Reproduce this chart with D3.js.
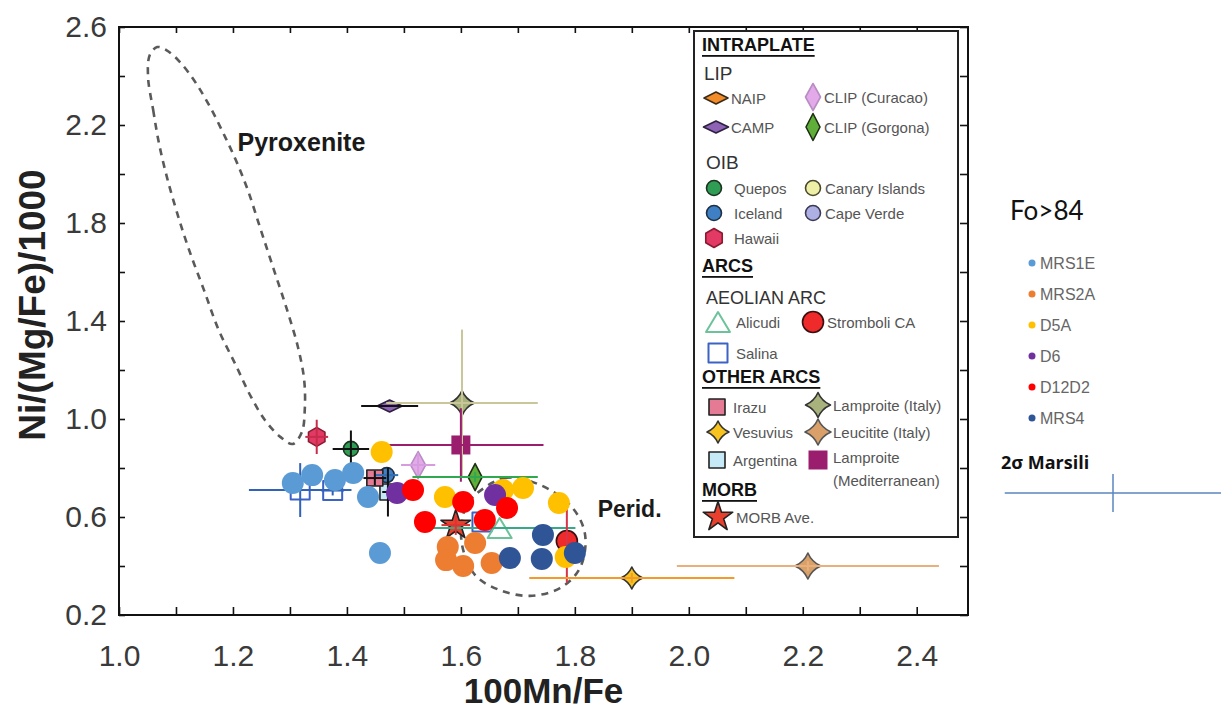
<!DOCTYPE html>
<html>
<head>
<meta charset="utf-8">
<script src="https://cdn.jsdelivr.net/npm/d3@7"></script>
<style>
  body { margin: 0; background: #fff; }
  svg { display: block; }
</style>
</head>
<body>
<svg id="chart" width="1221" height="708"></svg>
<script>
// ---- Axis ticks ----
const xTickLabels = [1.0, 1.2, 1.4, 1.6, 1.8, 2.0, 2.2, 2.4];
const yTickLabels = [0.2, 0.6, 1.0, 1.4, 1.8, 2.2, 2.6];
const xMinorTicks = [1.0, 1.1, 1.2, 1.3, 1.4, 1.5, 1.6, 1.7, 1.8, 1.9, 2.0, 2.1, 2.2, 2.3, 2.4];
const yMinorTicks = [0.2, 0.4, 0.6, 0.8, 1.0, 1.2, 1.4, 1.6, 1.8, 2.0, 2.2, 2.4, 2.6];

// ---- Olivine samples (Fo>84): [100Mn/Fe, Ni/(Mg/Fe)/1000] ----
const sampleNames = ["MRS1E", "MRS2A", "D5A", "D6", "D12D2", "MRS4"];
const mrs1e = [[1.305, 0.739], [1.339, 0.771], [1.379, 0.751], [1.411, 0.780], [1.437, 0.682], [1.458, 0.453]];
const mrs2a = [[1.577, 0.478], [1.574, 0.424], [1.604, 0.400], [1.625, 0.494], [1.654, 0.412]];
const d5a   = [[1.461, 0.865], [1.572, 0.682], [1.674, 0.710], [1.709, 0.718], [1.772, 0.657], [1.784, 0.437]];
const d6    = [[1.488, 0.698], [1.660, 0.690]];
const d12d2 = [[1.516, 0.710], [1.537, 0.580], [1.604, 0.661], [1.642, 0.588], [1.681, 0.637]];
const mrs4  = [[1.744, 0.527], [1.686, 0.433], [1.742, 0.429], [1.800, 0.453]];

// ---- Literature averages with 2σ bars ----
const refNames = ["Hawaii", "Quepos", "Lamproite (Italy)", "CAMP", "Lamproite (Mediterranean)",
  "CLIP (Curacao)", "CLIP (Gorgona)", "Iceland", "Argentina", "Irazu", "Salina", "Salina", "Salina",
  "Alicudi", "MORB Ave.", "Stromboli CA", "Vesuvius", "Leucitite (Italy)"];
const refX  = [1.347, 1.407, 1.602, 1.475, 1.600, 1.525, 1.625, 1.470, 1.472, 1.449, 1.318, 1.375, 1.637, 1.668, 1.591, 1.786, 1.900, 2.209];
const refY  = [0.927, 0.878, 1.065, 1.053, 0.894, 0.812, 0.763, 0.771, 0.702, 0.759, 0.710, 0.708, 0.580, 0.555, 0.567, 0.502, 0.351, 0.400];
const refDx = [0.020, 0.032, 0.133, 0.050, 0.145, 0.030, 0.110, 0.020, 0.010, 0.020, 0.090, 0.020, 0.000, 0.133, 0.025, 0.000, 0.180, 0.230];
const refDy = [0.070, 0.075, 0.300, 0.000, 0.150, 0.050, 0.020, 0.000, 0.100, 0.030, 0.110, 0.020, 0.000, 0.000, 0.040, 0.170, 0.020, 0.020];

// ---- Field outlines ----
const pyroxeniteOutline = [
  [1.051, 2.396], [1.060, 2.261], [1.070, 2.127], [1.084, 1.988], [1.102, 1.841], [1.123, 1.690],
  [1.149, 1.527], [1.175, 1.363], [1.205, 1.220], [1.230, 1.098], [1.256, 0.996], [1.283, 0.927],
  [1.305, 0.898], [1.321, 0.947], [1.326, 1.037], [1.325, 1.159], [1.314, 1.294], [1.295, 1.445],
  [1.272, 1.608], [1.249, 1.771], [1.226, 1.935], [1.205, 2.057], [1.183, 2.167], [1.160, 2.273],
  [1.135, 2.371], [1.107, 2.457], [1.083, 2.506], [1.067, 2.518], [1.054, 2.486]
];
const peridotiteOutline = [
  [1.616, 0.669], [1.677, 0.759], [1.739, 0.731], [1.796, 0.637], [1.818, 0.527], [1.809, 0.392],
  [1.774, 0.310], [1.721, 0.278], [1.668, 0.302], [1.625, 0.363], [1.602, 0.486], [1.604, 0.608]
];

// 2σ uncertainty of the Marsili data
const marsiliDx = 0.19;
const marsiliDy = 0.078;

// ---- Styles ----
const sampleColors = {
  "MRS1E": "#5b9bd5", "MRS2A": "#ed7d31", "D5A": "#ffc000",
  "D6": "#7030a0", "D12D2": "#ff0000", "MRS4": "#2f5597"
};
const markerStyle = {
  "NAIP":              { type: "diamond", w: 24, h: 12, fill: "#f28c28", stroke: "#3a2a1a" },
  "CAMP":              { type: "diamond", w: 25, h: 12, fill: "#8e63b5", stroke: "#2e2040" },
  "CLIP (Curacao)":    { type: "diamond", w: 15, h: 27, fill: "#e3aae9", stroke: "#b98cc4" },
  "CLIP (Gorgona)":    { type: "diamond", w: 14, h: 27, fill: "#5fae3a", stroke: "#1d2e12" },
  "Quepos":            { type: "circle", r: 7.5, fill: "#2f9e54", stroke: "#1c3322" },
  "Canary Islands":    { type: "circle", r: 7.5, fill: "#eef0a8", stroke: "#4a4a2a" },
  "Iceland":           { type: "circle", r: 7.5, fill: "#3f7fc4", stroke: "#1f2f44" },
  "Cape Verde":        { type: "circle", r: 7.5, fill: "#aeb0e3", stroke: "#3a3a55" },
  "Hawaii":            { type: "hex", r: 9.5, fill: "#e23a64", stroke: "#8a1a30" },
  "Alicudi":           { type: "triangle", w: 24, h: 20, fill: "none", stroke: "#6cc29a" },
  "Stromboli CA":      { type: "circle", r: 10.5, fill: "#ee2a2a", stroke: "#3a1010" },
  "Salina":            { type: "square", s: 19, fill: "none", stroke: "#3b62c4" },
  "Irazu":             { type: "square", s: 16, fill: "#e57a94", stroke: "#222" },
  "Lamproite (Italy)": { type: "star4", r: 12.5, fill: "#a8b27c", stroke: "#333" },
  "Vesuvius":          { type: "star4", r: 11, fill: "#f7c31e", stroke: "#333" },
  "Leucitite (Italy)": { type: "star4", r: 13, fill: "#d9a06a", stroke: "#555" },
  "Argentina":         { type: "square", s: 16, fill: "#c5e9f7", stroke: "#222" },
  "Lamproite (Mediterranean)": { type: "square", s: 19, fill: "#9a1d6e", stroke: "none" },
  "MORB Ave.":         { type: "star5", r: 13, fill: "#e8402c", stroke: "#222" }
};
const barColor = {
  "Hawaii": "#c72c4c", "Quepos": "#111", "CAMP": "#111", "Lamproite (Italy)": "#c9c79a",
  "Lamproite (Mediterranean)": "#9a1d6e", "CLIP (Curacao)": "#d79be0", "CLIP (Gorgona)": "#2fa84f",
  "Iceland": "#2f6fb8", "Irazu": "#111", "Argentina": "#111", "Salina": "#2f62b8", "Alicudi": "#36a987",
  "MORB Ave.": "#d33", "Stromboli CA": "#d8334a", "Vesuvius": "#f39a2a", "Leucitite (Italy)": "#e8b07c"
};

function markerPath(st) {
  if (st.type === "circle") {
    const r = st.r;
    return `M${-r},0a${r},${r} 0 1,0 ${2 * r},0a${r},${r} 0 1,0 ${-2 * r},0Z`;
  }
  if (st.type === "diamond") {
    return `M${-st.w / 2},0L0,${-st.h / 2}L${st.w / 2},0L0,${st.h / 2}Z`;
  }
  if (st.type === "square") {
    const h = st.s / 2;
    return `M${-h},${-h}H${h}V${h}H${-h}Z`;
  }
  if (st.type === "triangle") {
    return `M0,${-st.h / 2}L${st.w / 2},${st.h / 2}L${-st.w / 2},${st.h / 2}Z`;
  }
  if (st.type === "hex") {
    const pts = d3.range(6).map(i => {
      const a = Math.PI / 6 + i * Math.PI / 3;
      return [st.r * Math.cos(a), st.r * Math.sin(a)];
    });
    return "M" + pts.map(p => p.join(",")).join("L") + "Z";
  }
  if (st.type === "star4") {
    const r = st.r, c = 0.3 * r;
    return `M0,${-r}Q${c},${-c} ${r},0Q${c},${c} 0,${r}Q${-c},${c} ${-r},0Q${-c},${-c} 0,${-r}Z`;
  }
  if (st.type === "star5") {
    return d3.symbol(d3.symbolStar, st.r * st.r * 1.6)();
  }
  return "";
}

function drawMarker(g, name, cx, cy) {
  const st = markerStyle[name];
  g.append("path")
    .attr("d", markerPath(st))
    .attr("transform", `translate(${cx},${cy})`)
    .attr("fill", st.fill)
    .attr("stroke", st.stroke)
    .attr("stroke-width", st.fill === "none" ? 2 : 1.6)
    .attr("stroke-linejoin", "round");
}

// ---- Layout ----
const svg = d3.select("#chart");
const plot = { left: 119, right: 968, top: 27, bottom: 615 };
const x = d3.scaleLinear().domain([1.0, 2.49]).range([plot.left, plot.right]);
const y = d3.scaleLinear().domain([0.2, 2.6]).range([plot.bottom, plot.top]);

const fmt = d3.format(".1f");
const isLabel = (arr, d) => arr.some(v => Math.abs(v - d) < 1e-9);

// ---- Field outlines ----
const outline = d3.line().x(d => x(d[0])).y(d => y(d[1])).curve(d3.curveCatmullRomClosed.alpha(0.5));
svg.append("path").datum(pyroxeniteOutline).attr("d", outline)
  .attr("fill", "none").attr("stroke", "#5a5a5a").attr("stroke-width", 2.6).attr("stroke-dasharray", "7,6");
svg.append("path").datum(peridotiteOutline).attr("d", outline)
  .attr("fill", "none").attr("stroke", "#5a5a5a").attr("stroke-width", 2.6).attr("stroke-dasharray", "7,6");

svg.append("text").attr("x", x(1.208)).attr("y", y(2.13))
  .attr("font-family", "Liberation Sans, Arial, sans-serif").attr("font-weight", "bold")
  .attr("font-size", 25).attr("dominant-baseline", "central").attr("fill", "#1a1a1a").text("Pyroxenite");
svg.append("text").attr("x", x(1.84)).attr("y", y(0.632))
  .attr("font-family", "Liberation Sans, Arial, sans-serif").attr("font-weight", "bold")
  .attr("font-size", 23).attr("dominant-baseline", "central").attr("fill", "#1a1a1a").text("Perid.");

// ---- Literature references: markers then 2σ bars ----
const refs = refNames.map((n, i) => ({ name: n, x: refX[i], y: refY[i], dx: refDx[i], dy: refDy[i] }));
const refLayer = svg.append("g");
const barLayer = svg.append("g");
refs.forEach(d => {
  drawMarker(refLayer, d.name, x(d.x), y(d.y));
  const col = barColor[d.name];
  if (d.dx > 0) {
    barLayer.append("line").attr("x1", x(d.x - d.dx)).attr("x2", x(d.x + d.dx))
      .attr("y1", y(d.y)).attr("y2", y(d.y)).attr("stroke", col).attr("stroke-width", 2);
  }
  if (d.dy > 0) {
    barLayer.append("line").attr("x1", x(d.x)).attr("x2", x(d.x))
      .attr("y1", y(d.y - d.dy)).attr("y2", y(d.y + d.dy)).attr("stroke", col).attr("stroke-width", 2);
  }
});

// ---- Samples ----
const sampleSets = [mrs1e, mrs2a, d5a, d6, d12d2, mrs4];
sampleSets.forEach((pts, i) => {
  svg.append("g").selectAll("circle").data(pts).join("circle")
    .attr("cx", d => x(d[0])).attr("cy", d => y(d[1])).attr("r", 11)
    .attr("fill", sampleColors[sampleNames[i]]);
});

// ---- Axes (ticks point inward on all four sides) ----
const tickStyle = g => {
  g.select(".domain").remove();
  g.selectAll(".tick line").attr("stroke", "#111").attr("stroke-width", 1.6);
  g.selectAll(".tick text").attr("fill", "#3a3a3a")
    .attr("font-family", "Liberation Sans, Arial, sans-serif").attr("font-size", 30);
};
svg.append("g").attr("transform", `translate(0,${plot.bottom})`)
  .call(d3.axisBottom(x).tickValues(xMinorTicks).tickSizeInner(-8).tickSizeOuter(0).tickPadding(30)
    .tickFormat(d => isLabel(xTickLabels, d) ? fmt(d) : ""))
  .call(tickStyle);
svg.append("g").attr("transform", `translate(0,${plot.top})`)
  .call(d3.axisTop(x).tickValues(xMinorTicks).tickSizeInner(-6).tickSizeOuter(0).tickFormat(""))
  .call(tickStyle);
svg.append("g").attr("transform", `translate(${plot.left},0)`)
  .call(d3.axisLeft(y).tickValues(yMinorTicks).tickSizeInner(-6).tickSizeOuter(0).tickPadding(12)
    .tickFormat(d => isLabel(yTickLabels, d) ? fmt(d) : ""))
  .call(tickStyle);
svg.append("g").attr("transform", `translate(${plot.right},0)`)
  .call(d3.axisRight(y).tickValues(yMinorTicks).tickSizeInner(-8).tickSizeOuter(0).tickFormat(""))
  .call(tickStyle);

svg.append("rect").attr("x", plot.left).attr("y", plot.top)
  .attr("width", plot.right - plot.left).attr("height", plot.bottom - plot.top)
  .attr("fill", "none").attr("stroke", "#111").attr("stroke-width", 2);

// Axis titles
svg.append("text").attr("x", (plot.left + plot.right) / 2).attr("y", 690)
  .attr("text-anchor", "middle").attr("dominant-baseline", "central")
  .attr("font-family", "Liberation Sans, Arial, sans-serif").attr("font-weight", "bold")
  .attr("font-size", 35).attr("fill", "#222").text("100Mn/Fe");
svg.append("text").attr("transform", "translate(32,305) rotate(-90)")
  .attr("text-anchor", "middle").attr("dominant-baseline", "central")
  .attr("font-family", "Liberation Sans, Arial, sans-serif").attr("font-weight", "bold")
  .attr("font-size", 37).attr("fill", "#222").text("Ni/(Mg/Fe)/1000");

// ---- Reference legend box ----
const lg = svg.append("g");
lg.append("rect").attr("x", 694).attr("y", 31).attr("width", 264).attr("height", 506)
  .attr("fill", "#fff").attr("stroke", "#222").attr("stroke-width", 2);

const font = "Liberation Sans, Arial, sans-serif";
const headers = [
  { t: "INTRAPLATE", x: 702, y: 45, bold: true, size: 18 },
  { t: "LIP", x: 704, y: 73, bold: false, size: 19 },
  { t: "OIB", x: 706, y: 162, bold: false, size: 19 },
  { t: "ARCS", x: 702, y: 266, bold: true, size: 18 },
  { t: "AEOLIAN ARC", x: 706, y: 298, bold: false, size: 18 },
  { t: "OTHER ARCS", x: 702, y: 377, bold: true, size: 18 },
  { t: "MORB", x: 702, y: 490, bold: true, size: 18 }
];
headers.forEach(h => {
  lg.append("text").attr("x", h.x).attr("y", h.y).attr("dominant-baseline", "central")
    .attr("font-family", font).attr("font-size", h.size)
    .attr("font-weight", h.bold ? "bold" : "normal")
    .attr("text-decoration", h.bold ? "underline" : "none")
    .attr("fill", h.bold ? "#111" : "#333").text(h.t);
});

const legendItems = [
  { n: "NAIP", mx: 716, tx: 731, y: 98 },
  { n: "CLIP (Curacao)", mx: 813, tx: 824, y: 97 },
  { n: "CAMP", mx: 716, tx: 731, y: 127 },
  { n: "CLIP (Gorgona)", mx: 813, tx: 824, y: 127 },
  { n: "Quepos", mx: 714, tx: 734, y: 188 },
  { n: "Canary Islands", mx: 813, tx: 825, y: 188 },
  { n: "Iceland", mx: 714, tx: 734, y: 213 },
  { n: "Cape Verde", mx: 813, tx: 825, y: 213 },
  { n: "Hawaii", mx: 714, tx: 734, y: 238 },
  { n: "Alicudi", mx: 718, tx: 736, y: 322 },
  { n: "Stromboli CA", mx: 813, tx: 827, y: 322 },
  { n: "Salina", mx: 718, tx: 736, y: 353 },
  { n: "Irazu", mx: 717, tx: 733, y: 407 },
  { n: "Lamproite (Italy)", mx: 818, tx: 833, y: 405 },
  { n: "Vesuvius", mx: 718, tx: 733, y: 432 },
  { n: "Leucitite (Italy)", mx: 818, tx: 833, y: 432 },
  { n: "Argentina", mx: 717, tx: 733, y: 460 },
  { n: "Lamproite (Mediterranean)", mx: 818, tx: 833, y: 460, lines: ["Lamproite", "(Mediterranean)"] },
  { n: "MORB Ave.", mx: 718, tx: 736, y: 517 }
];
legendItems.forEach(it => {
  drawMarker(lg, it.n, it.mx, it.y);
  const lines = it.lines || [it.n];
  lines.forEach((ln, k) => {
    lg.append("text").attr("x", it.tx).attr("y", it.y - (lines.length > 1 ? 3 : 0) + k * 23)
      .attr("dominant-baseline", "central").attr("font-family", font)
      .attr("font-size", 15).attr("fill", "#555").text(ln);
  });
});

// ---- Sample legend ----
const sg = svg.append("g");
sg.append("text").attr("x", 1010).attr("y", 210).attr("dominant-baseline", "central")
  .attr("font-family", "Lato, Open Sans, sans-serif").attr("font-size", 26).attr("fill", "#111").text("Fo>84");
sampleNames.forEach((n, i) => {
  const yy = 263 + i * 31;
  sg.append("circle").attr("cx", 1032).attr("cy", yy).attr("r", 3.5).attr("fill", sampleColors[n]);
  sg.append("text").attr("x", 1040).attr("y", yy).attr("dominant-baseline", "central")
    .attr("font-family", "Liberation Sans, Arial, sans-serif").attr("font-size", 16)
    .attr("fill", "#666").text(n);
});
sg.append("text").attr("x", 1001).attr("y", 462).attr("dominant-baseline", "central")
  .attr("font-family", "Open Sans, sans-serif").attr("font-weight", "bold").attr("font-size", 18)
  .attr("fill", "#111").text("2σ Marsili");

// 2σ bar drawn at the plot's scale
const mx = 1113, my = 493;
const halfW = x(1 + marsiliDx) - x(1), halfH = y(0.2) - y(0.2 + marsiliDy);
sg.append("line").attr("x1", mx - halfW).attr("x2", mx + halfW).attr("y1", my).attr("y2", my)
  .attr("stroke", "#5b86c0").attr("stroke-width", 1.5);
sg.append("line").attr("x1", mx).attr("x2", mx).attr("y1", my - halfH).attr("y2", my + halfH)
  .attr("stroke", "#5b86c0").attr("stroke-width", 1.5);
</script>
</body>
</html>
